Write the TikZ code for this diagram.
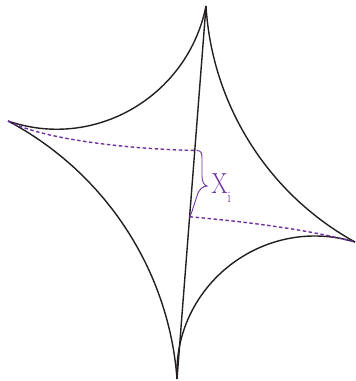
\documentclass[tikz,border=0pt]{standalone}
\usetikzlibrary{calc}
\definecolor{ink}{RGB}{35,31,32}
\definecolor{purp}{RGB}{112,48,160}
\begin{document}
\begin{tikzpicture}[x=1pt,y=-1pt,
  curve/.style={line width=1.4pt, draw=ink},
  dashline/.style={line width=1.4pt, draw=purp, dash pattern=on 3.5pt off 2.5pt},
  bracel/.style={line width=0.9pt, draw=purp},
  lbl/.style={text=purp, inner sep=0pt}]
\useasboundingbox (0,0) rectangle (356,381);
\coordinate (T) at (206,6);
\coordinate (L) at (8,121);
\coordinate (R) at (355,242);
\coordinate (B) at (177,379);
\coordinate (P1) at (197,150.5);
\coordinate (P2) at ($(T)!0.565!(B)$);
\coordinate (tip) at (207,186);
% cusp curves
\draw[curve] (L) .. controls (95,151) and (188,96) .. (T);
\draw[curve] (T) .. controls (212,105) and (268,194) .. (R);
\draw[curve] (L) .. controls (105,172.5) and (169,270) .. (B);
\draw[curve] (R) .. controls (264,214.5) and (173,285) .. (B);
% chord
\draw[curve] (T) -- (B);
% dashed
\draw[dashline] (L) .. controls (40,138) and (120,149) .. (P1);
\draw[dashline] (P2) .. controls (250,222) and (310,230) .. (R);
% brace
\draw[bracel] (P1) .. controls (201,150.5) and (202,153) .. (202,158) -- (202,176)
  .. controls (202,182) and (204,185) .. (tip)
  .. controls (203,186) and (199,189) .. (197,196) -- (193,208)
  .. controls (192,212) and (191,214) .. (P2);
\node[lbl, anchor=base west, xscale=0.8] (X) at (211.5,193.3) {\fontsize{29}{29}\selectfont X\raisebox{-9pt}{\fontsize{16}{16}\selectfont i}};
\end{tikzpicture}
\end{document}
